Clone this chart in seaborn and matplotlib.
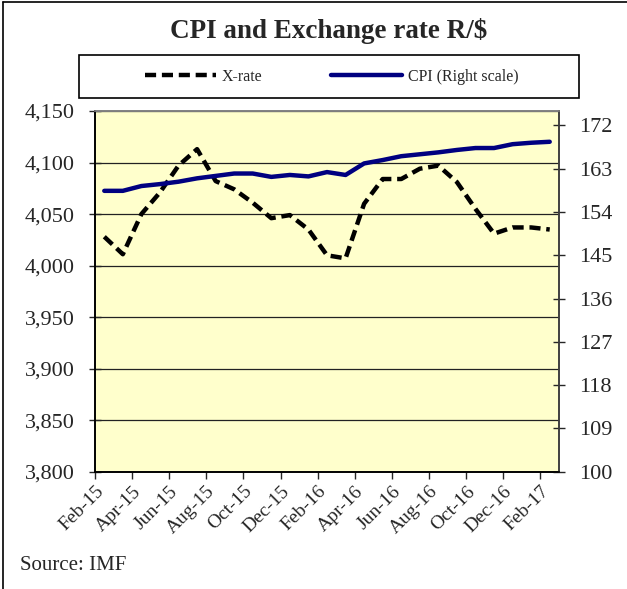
import numpy as np
import pandas as pd
import matplotlib
matplotlib.use('Agg')
import matplotlib.pyplot as plt
from matplotlib.lines import Line2D
from matplotlib.patches import Rectangle
from matplotlib.ticker import FuncFormatter
import seaborn as sns

# ---- data ----
months = ['Feb-15', 'Mar-15', 'Apr-15', 'May-15', 'Jun-15', 'Jul-15', 'Aug-15', 'Sep-15',
          'Oct-15', 'Nov-15', 'Dec-15', 'Jan-16', 'Feb-16', 'Mar-16', 'Apr-16', 'May-16',
          'Jun-16', 'Jul-16', 'Aug-16', 'Sep-16', 'Oct-16', 'Nov-16', 'Dec-16', 'Jan-17', 'Feb-17']
xrate = [4028, 4011, 4050, 4071, 4097, 4113, 4082, 4074, 4061, 4046, 4049, 4035, 4010,
         4007, 4060, 4084, 4084, 4094, 4097, 4081, 4055, 4031, 4037, 4037, 4035]
cpi = [158.4, 158.4, 159.4, 159.8, 160.3, 161.0, 161.5, 162.0, 162.0, 161.3, 161.7, 161.4, 162.3,
       161.7, 164.1, 164.8, 165.6, 166.0, 166.4, 166.9, 167.3, 167.3, 168.1, 168.4, 168.6]
left_ticks = [3800, 3850, 3900, 3950, 4000, 4050, 4100, 4150]
right_ticks = [100, 109, 118, 127, 136, 145, 154, 163, 172]

df = pd.DataFrame({'pos': np.arange(len(months)), 'month': months, 'xrate': xrate, 'cpi': cpi})

sns.set_style('white')
plt.rcParams['font.family'] = ['Liberation Serif', 'DejaVu Serif']

W, H = 627, 589
fig = plt.figure(figsize=(W / 100, H / 100), dpi=100)

def fx(px):
    return px / W

def fy(py):
    return 1 - py / H

# plot area
ax = fig.add_axes([fx(95), fy(471.7), fx(559) - fx(95), fy(111) - fy(471.7)])
ax.set_facecolor('#FFFFCC')
ax2 = ax.twinx()

sns.lineplot(data=df, x='pos', y='xrate', ax=ax, color='black', linewidth=3.2,
             linestyle=(0, (2.5, 1.3)), legend=False)
sns.lineplot(data=df, x='pos', y='cpi', ax=ax2, color='#000080', linewidth=3.2,
             legend=False)

ax.set_xlim(-0.5, len(months) - 0.5)
ax.set_ylim(3800, 4150)
ax2.set_ylim(100, 175)
ax.set_yticks(left_ticks)
ax2.set_yticks(right_ticks)
ax.yaxis.set_major_formatter(FuncFormatter(lambda v, p: f'{int(v):,}'))
ax.set_xticks(np.arange(len(months))[::2] - 0.5)
ax.set_xticklabels(months[::2], rotation=45, ha='right', rotation_mode='anchor', fontsize=14)
ax.set_xlabel('')
ax.set_ylabel('')
ax2.set_ylabel('')

ax.grid(axis='y', color='#222222', linewidth=0.9)
ax.grid(axis='x', visible=False)
ax2.grid(False)
ax.set_axisbelow(True)

ax.tick_params(axis='y', direction='inout', length=9, width=1, labelsize=16, pad=10, left=True)
ax2.tick_params(axis='y', direction='inout', length=9, width=1, labelsize=16, pad=10, right=True)
ax.tick_params(axis='x', direction='out', length=5, width=1, bottom=True, pad=3)

for a in (ax, ax2):
    a.spines['left'].set_color('black')
    a.spines['bottom'].set_color('black')
    a.spines['top'].set_color('#808080')
    a.spines['right'].set_color('#404040')
    for s in a.spines.values():
        s.set_linewidth(1.2)

# title
fig.text(fx(329), fy(31), 'CPI and Exchange rate R/$', ha='center', va='center',
         fontsize=19.5, fontweight='bold')

# legend box
fig.patches.append(Rectangle((fx(79), fy(98)), fx(579) - fx(79), fy(55) - fy(98),
                             transform=fig.transFigure, fill=False, edgecolor='black',
                             linewidth=1.2))
handles = [Line2D([], [], color='black', linewidth=3.2, linestyle=(0, (2.5, 1.3))),
           Line2D([], [], color='#000080', linewidth=3.2)]
fig.legend(handles, ['X-rate', 'CPI (Right scale)'], loc='center',
           bbox_to_anchor=(fx(332), fy(77)), ncol=2, frameon=False, fontsize=11.5,
           handlelength=4.4, handletextpad=0.4, columnspacing=4.3)

# source
fig.text(fx(20), fy(566), 'Source: IMF', ha='left', va='center', fontsize=15)

# outer frame (left and top edges visible)
fig.add_artist(Line2D([fx(3), fx(3)], [0, fy(2)], color='black', linewidth=1.2))
fig.add_artist(Line2D([fx(3), 1], [fy(2), fy(2)], color='black', linewidth=1.2))

fig.savefig('out.png', dpi=100)
